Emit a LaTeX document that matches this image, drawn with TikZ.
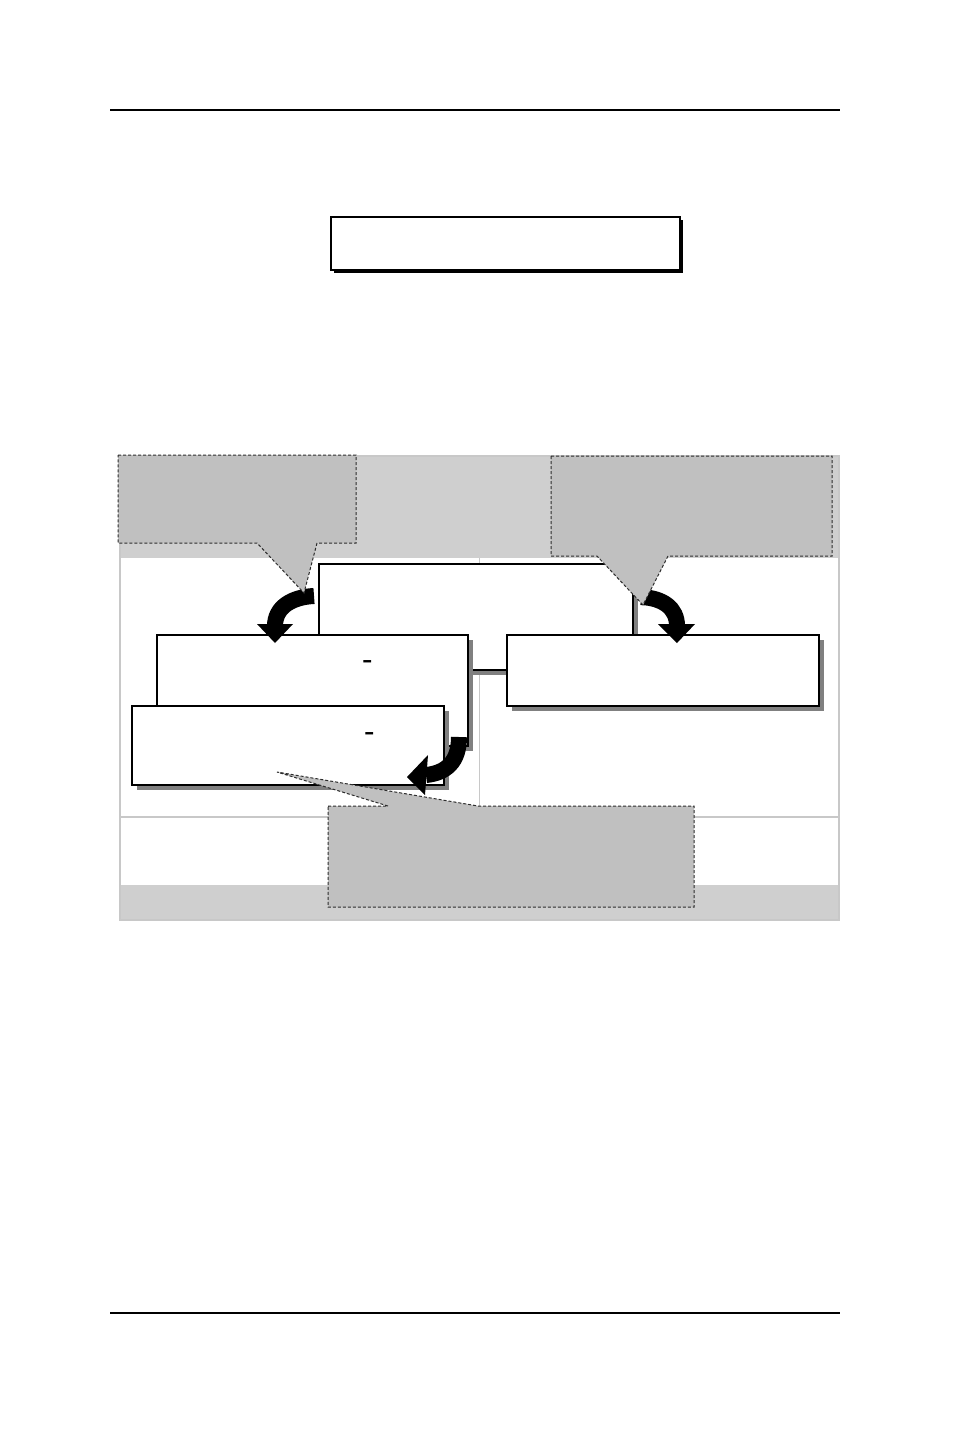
\documentclass[tikz,border=0pt]{standalone}
\usetikzlibrary{shadows}
\definecolor{bandgray}{RGB}{207,207,207}
\definecolor{callgray}{RGB}{192,192,192}
\definecolor{shadgray}{RGB}{128,128,128}
\definecolor{gridgray}{RGB}{200,200,200}
\definecolor{dashgray}{RGB}{45,45,45}
\begin{document}
\begin{tikzpicture}[x=0.5pt,y=-0.5pt,
  box/.style={draw=black, line width=1pt, fill=white, inner sep=0pt, anchor=north west,
    drop shadow={shadow xshift=2.5pt, shadow yshift=-2.5pt, fill=shadgray, opacity=1}},
  topbox/.style={draw=black, line width=1.1pt, fill=white, inner sep=0pt, anchor=north west,
    drop shadow={shadow xshift=1.6pt, shadow yshift=-1.6pt, fill=black, opacity=1}},
  callout/.style={fill=callgray, draw=dashgray, line width=0.5pt, dash pattern=on 1.5pt off 1pt, line join=miter},
  band/.style={draw=black, line width=8pt},
  headtip/.style={fill=black},
  grid/.style={draw=gridgray, line width=0.6pt},
  dashmark/.style={inner sep=0pt, font=\bfseries\fontsize{13}{13}\selectfont}
]
\useasboundingbox (0,0) rectangle (954,1430);
\fill[white] (0,0) rectangle (954,1430);

% header / footer rules
\coordinate (hl) at (110,110); \coordinate (hr) at (840,110);
\coordinate (fl) at (110,1313); \coordinate (fr) at (840,1313);
\draw[line width=0.6pt] (hl) -- (hr);
\draw[line width=0.6pt] (fl) -- (fr);

% title box
\node[topbox, minimum width=174.5pt, minimum height=26.5pt] (title) at (330,216) {};

% panel background
\fill[bandgray] (121,457) rectangle (838,558);
\fill[bandgray] (121,885) rectangle (838,919);
\draw[grid] (120,456) rectangle (839,920);
\draw[grid] (479.5,558) -- (479.5,817);
\draw[grid] (121,817) -- (838,817);

% boxes
\node[box, minimum width=157pt, minimum height=53pt] (c) at (318,563) {};
\node[box, minimum width=155.5pt, minimum height=55.5pt] (l1) at (156,634) {};
\node[box, minimum width=156pt, minimum height=35.5pt] (r) at (506,634) {};
\node[box, minimum width=156pt, minimum height=39.5pt] (l2) at (131,705) {};

\node[dashmark] (m1) at (368,664) {-};
\node[dashmark] (m2) at (370,736) {-};

% curved arrows 1 and 2
\coordinate (a1s) at (314,596); \coordinate (a1e) at (275,626);
\draw[band] (a1s) .. controls (292,597) and (275,607) .. (a1e);
\fill[headtip] (257,624) -- (293,624) -- (275,643) -- cycle;

\coordinate (a2s) at (641,597); \coordinate (a2e) at (677,626);
\draw[band] (a2s) .. controls (663,598) and (677,608) .. (a2e);
\fill[headtip] (658,624) -- (695,624) -- (677,643) -- cycle;

% callouts 1 and 2
\draw[callout] (118,455) -- (356,455) -- (356,543) -- (317,543) -- (304,593) -- (257,543) -- (118,543) -- cycle;
\draw[callout] (551,456) -- (832,456) -- (832,556) -- (668,556) -- (643,605) -- (597,556) -- (551,556) -- cycle;

% callout 3
\draw[callout] (328,806) -- (388,806) -- (277,772) -- (478,806) -- (694,806) -- (694,907) -- (328,907) -- cycle;

% curved arrow 3
\coordinate (a3s) at (459,737); \coordinate (a3e) at (426,775);
\draw[band] (a3s) .. controls (459,762) and (446,773) .. (a3e);
\fill[headtip] (428,755) -- (425,795) -- (407,777) -- cycle;
\end{tikzpicture}
\end{document}
